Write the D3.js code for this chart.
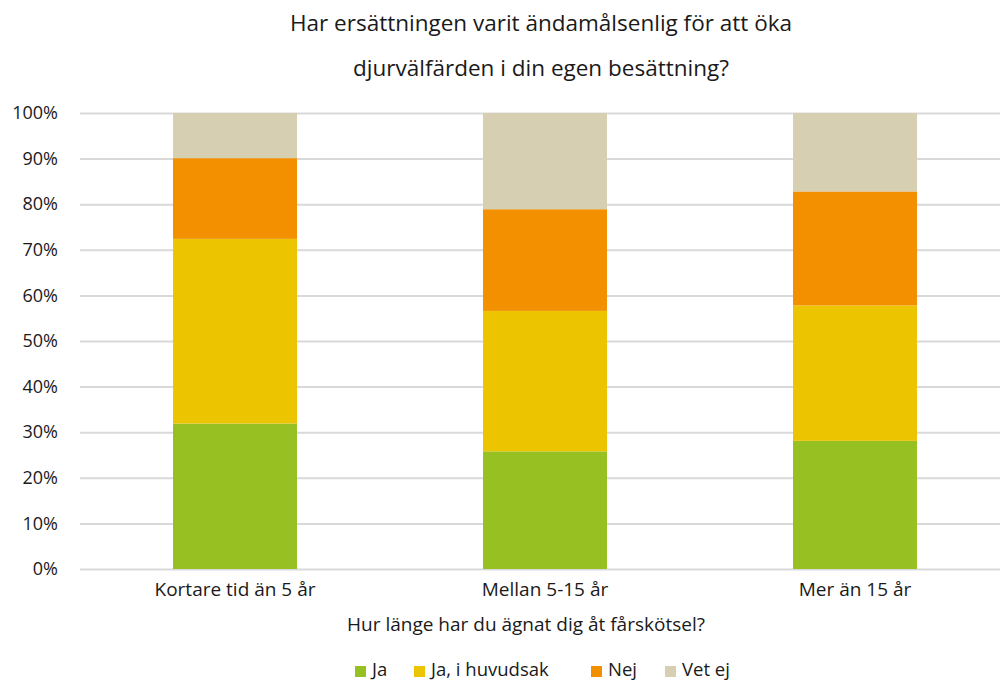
<!DOCTYPE html>
<html>
<head>
<meta charset="utf-8">
<script src="https://cdn.jsdelivr.net/npm/d3@7"></script>
<style>
  html, body { margin: 0; padding: 0; background: #fff; }
  svg { display: block; }
  text { font-family: "Open Sans", "Noto Sans", sans-serif; fill: #1a1a1a; }
</style>
</head>
<body>
<svg id="chart" width="1000" height="681"></svg>
<script>
const titleLines = ["Har ersättningen varit ändamålsenlig för att öka", "djurvälfärden i din egen besättning?"];
const xAxisTitle = "Hur länge har du ägnat dig åt fårskötsel?";
const categories = ["Kortare tid än 5 år", "Mellan 5-15 år", "Mer än 15 år"];
const seriesNames = ["Ja", "Ja, i huvudsak", "Nej", "Vet ej"];
const seriesColors = ["#97c023", "#ecc500", "#f39000", "#d6cfb1"];
const ja = [31.9, 25.8, 28.1];
const jaHuvudsak = [40.5, 30.8, 29.7];
const nej = [17.7, 22.3, 25.0];
const vetEj = [9.9, 21.1, 17.2];
const yTicks = [0, 10, 20, 30, 40, 50, 60, 70, 80, 90, 100];

const svg = d3.select("#chart");
const W = 1000, H = 681;
const m = { left: 80, right: -10, top: 113, bottom: 112 };

const x = d3.scaleBand().domain(categories).range([m.left, W - m.right]).paddingInner(0.6).paddingOuter(0.3);
const y = d3.scaleLinear().domain([0, 100]).range([H - m.bottom, m.top]);

// title
svg.append("g").selectAll("text").data(titleLines).join("text")
  .attr("x", 541).attr("y", (d, i) => 31 + i * 45)
  .attr("text-anchor", "middle").style("font-size", "22.5px").text(d => d);

// gridlines
const grid = svg.append("g").attr("transform", `translate(${m.left},0)`)
  .call(d3.axisLeft(y).tickValues(yTicks).tickSize(-(W - m.left)).tickFormat(""));
grid.select(".domain").remove();
grid.selectAll("line").attr("stroke", "#d9d9d9").attr("stroke-width", 2);

// y labels
const yAxis = svg.append("g").attr("transform", `translate(${m.left},0)`)
  .call(d3.axisLeft(y).tickValues(yTicks).tickSize(0).tickPadding(22).tickFormat(d => d + "%"));
yAxis.select(".domain").remove();
yAxis.selectAll("text").style("font-size", "18px").attr("fill", "#1a1a1a");

// stack
const rows = categories.map((c, i) => ({ cat: c, "Ja": ja[i], "Ja, i huvudsak": jaHuvudsak[i], "Nej": nej[i], "Vet ej": vetEj[i] }));
const stacked = d3.stack().keys(seriesNames)(rows);
const color = d3.scaleOrdinal().domain(seriesNames).range(seriesColors);

svg.append("g").selectAll("g").data(stacked).join("g")
  .attr("fill", d => color(d.key))
  .selectAll("rect").data(d => d).join("rect")
  .attr("x", d => x(d.data.cat))
  .attr("width", x.bandwidth())
  .attr("y", d => y(d[1]))
  .attr("height", d => y(d[0]) - y(d[1]));

// x labels
const xAxis = svg.append("g").attr("transform", `translate(0,${H - m.bottom})`)
  .call(d3.axisBottom(x).tickSize(0).tickPadding(14));
xAxis.select(".domain").remove();
xAxis.selectAll("text").style("font-size", "19px").attr("fill", "#1a1a1a");

// x axis title
svg.append("text").attr("x", 526).attr("y", 631).attr("text-anchor", "middle")
  .style("font-size", "19px").text(xAxisTitle);

// legend
const legendX = [355, 414, 591, 665];
const lg = svg.append("g").selectAll("g").data(seriesNames).join("g")
  .attr("transform", (d, i) => `translate(${legendX[i]},666)`);
lg.append("rect").attr("width", 11).attr("height", 11).attr("fill", d => color(d));
lg.append("text").attr("x", 17).attr("y", 10).style("font-size", "18.5px").text(d => d);
</script>
</body>
</html>
